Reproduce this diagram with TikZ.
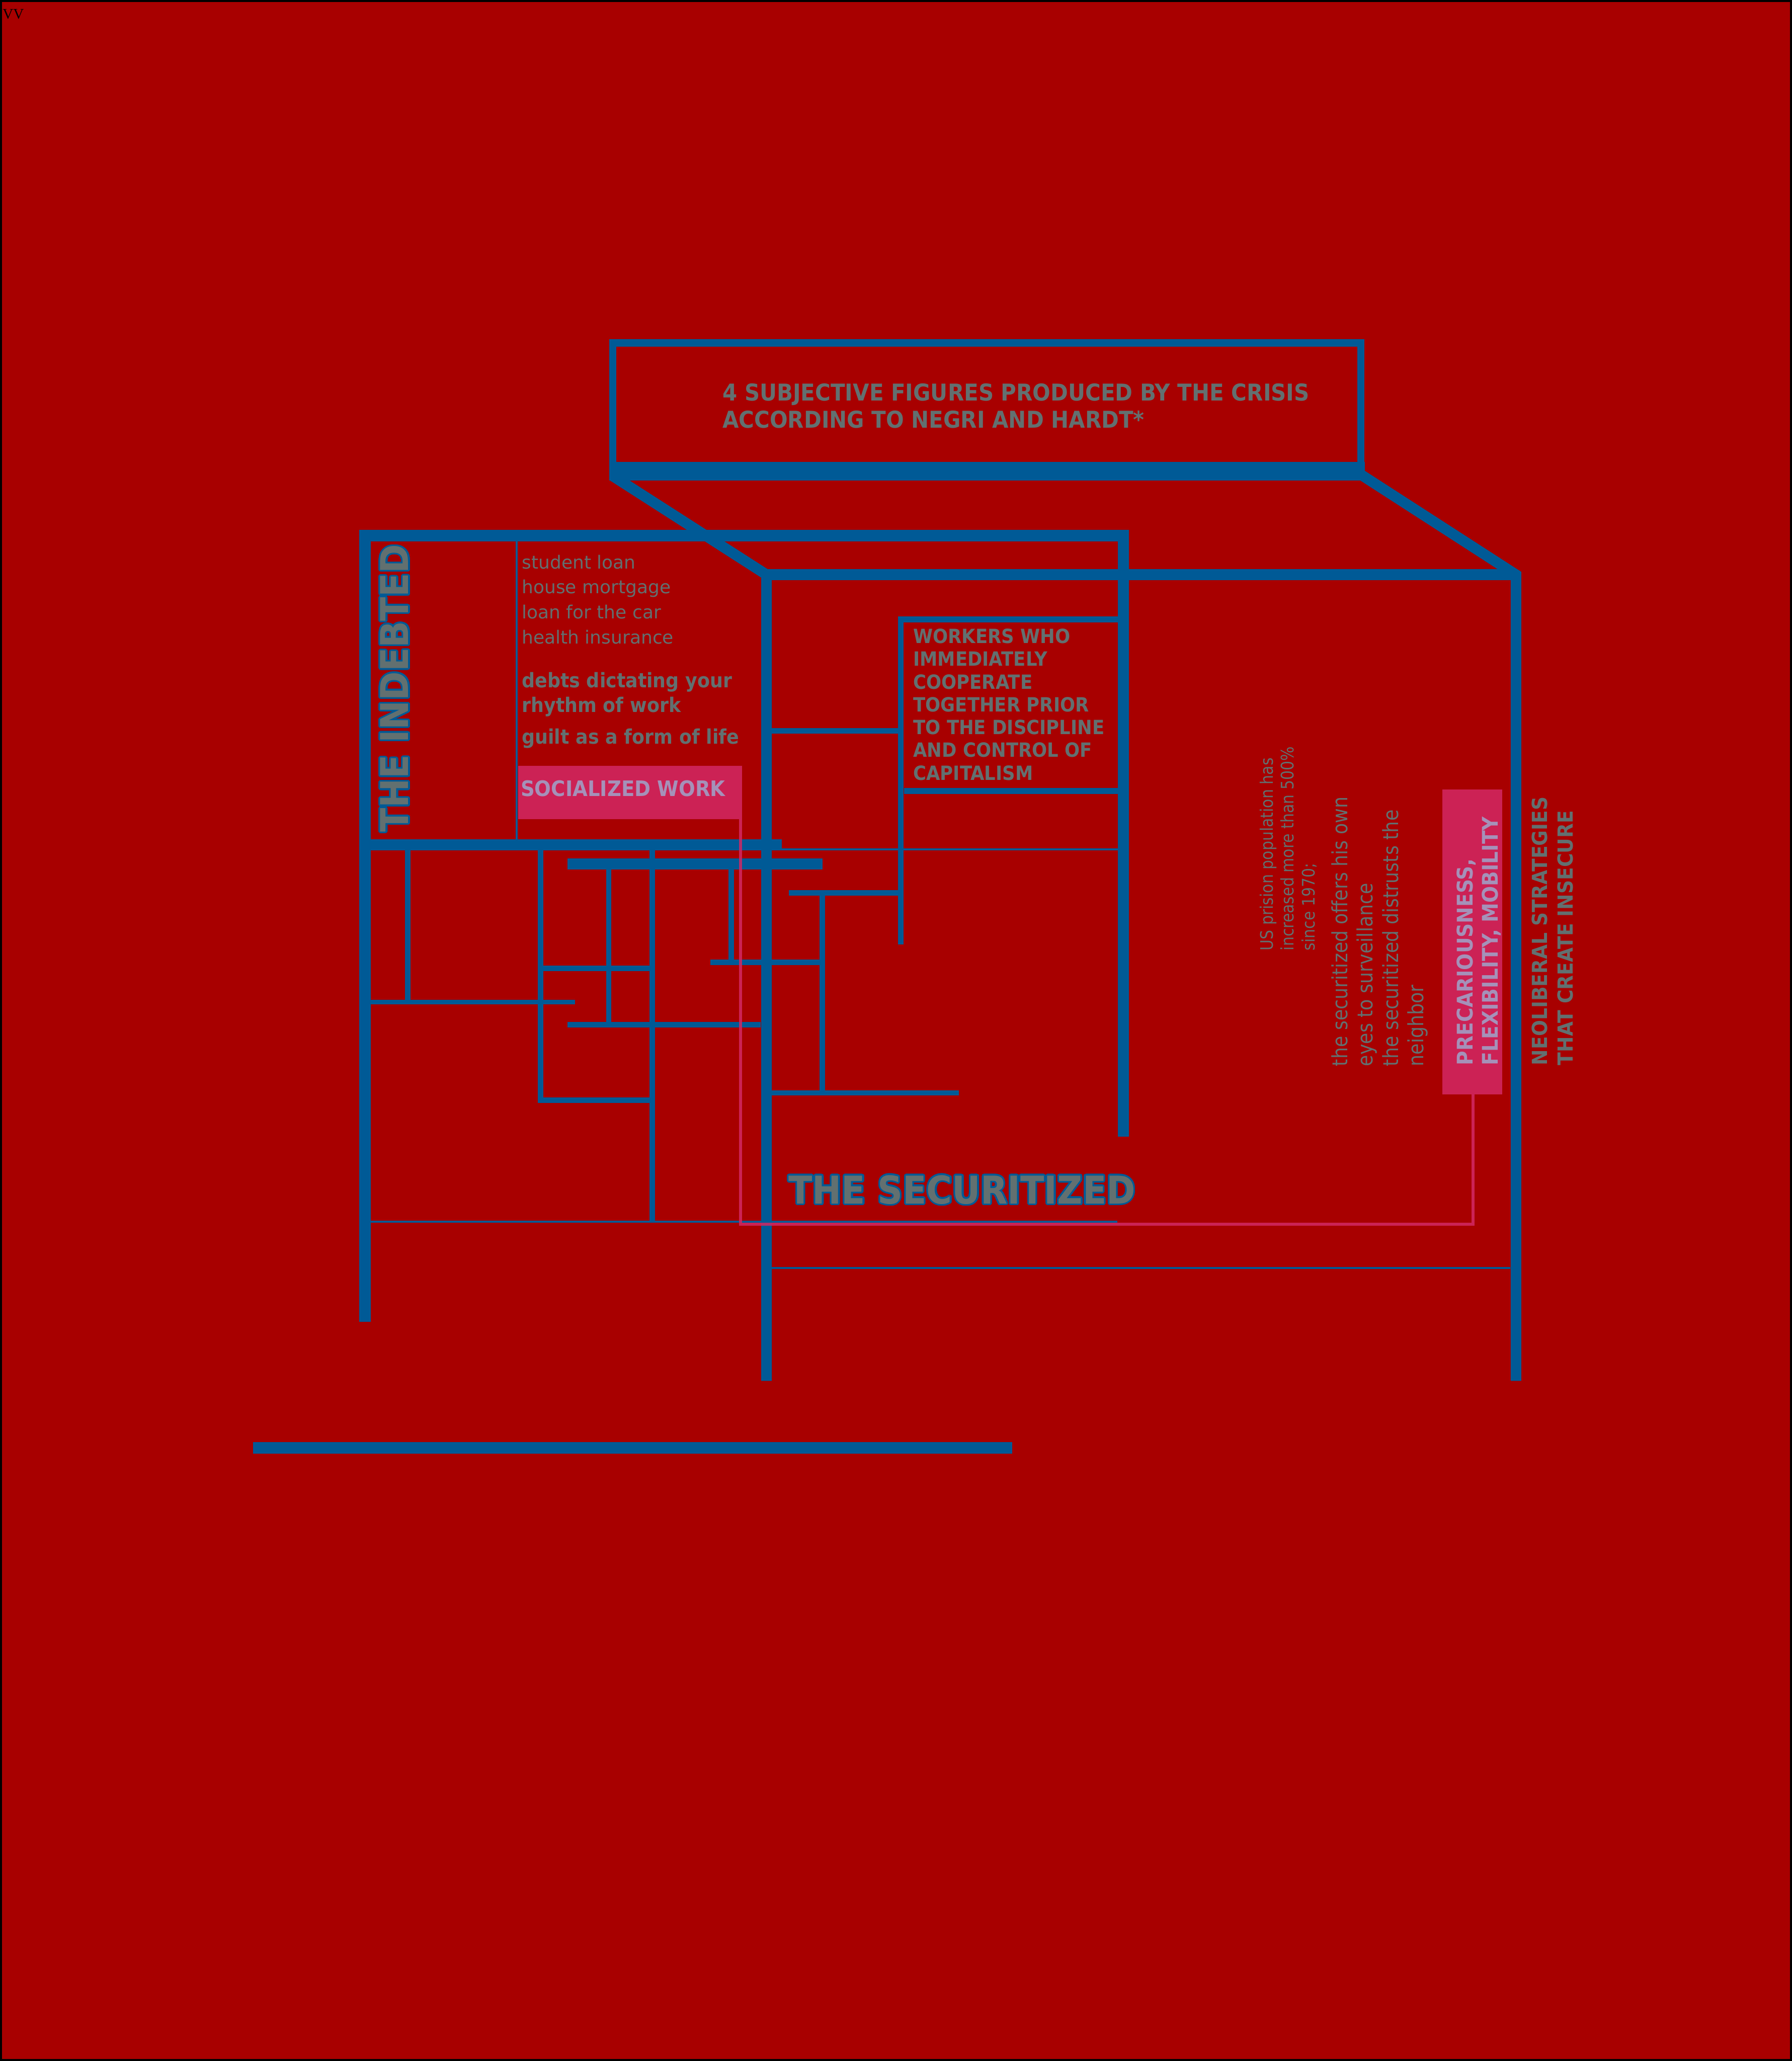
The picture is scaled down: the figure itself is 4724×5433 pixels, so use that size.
\documentclass[tikz,border=0pt]{standalone}
\usepackage{fontspec}
\usepackage{xcolor}
\setmainfont{DejaVu Sans}
\newfontfamily\rgcond{DejaVu Sans}[FakeStretch=0.87]
\newfontfamily\bfcond{DejaVu Sans}[FakeStretch=0.91]
\newfontfamily\vvfont{Liberation Serif}
\definecolor{bgred}{RGB}{168,0,0}
\definecolor{wallblue}{RGB}{0,90,150}
\definecolor{txtgray}{RGB}{98,112,112}
\definecolor{lilac}{RGB}{165,145,185}
\definecolor{pinkc}{RGB}{204,34,85}
\definecolor{pinkln}{RGB}{210,40,100}
\begin{document}
\begin{tikzpicture}[x=0.1mm,y=-0.1mm,line cap=butt,
wall/.style={wallblue,line width=3mm},beam/.style={wallblue,line width=1.4mm},hair/.style={wallblue,line width=0.5mm},
pinkline/.style={pinkln,line width=0.8mm,opacity=0.85},
txt/.style={inner sep=0,outer sep=0,anchor=base west,text=txtgray},rot/.style={txt,rotate=90},
titlef/.style={font=\bfcond\bfseries\fontsize{17.4pt}{20pt}\selectfont},
workf/.style={font=\bfcond\bfseries\fontsize{14.7pt}{17pt}\selectfont},
debtf/.style={font=\bfcond\bfseries\fontsize{15.1pt}{18pt}\selectfont},
listf/.style={font=\fontsize{13.6pt}{16pt}\selectfont},
bigf/.style={font=\bfcond\bfseries\fontsize{28.8pt}{32pt}\selectfont},
secf/.style={font=\rgcond\fontsize{15.8pt}{19pt}\selectfont},
usf/.style={font=\rgcond\fontsize{13pt}{16pt}\selectfont}]
\fill[bgred] (0,0) rectangle (4724,5433);
\useasboundingbox (0,0) rectangle (4724,5433);
\draw[black,line width=1mm] (0,0) rectangle (4724,5433);
\node[txt,text=black,font=\vvfont\fontsize{11pt}{13pt}\selectfont] (vv) at (7,50) {VV};
% roof
\draw[wallblue,line width=1.9mm] (1616,1242) -- (1616,904) -- (3588,904) -- (3588,1242);
\fill[wallblue] (1606,1218) rectangle (3598,1267);
\draw[wall,line width=2.8mm] (1616,1255) -- (2021,1515) -- (2021,3640);
\draw[wall,line width=2.8mm] (3588,1251) -- (3997,1515) -- (3997,3640);
\draw[wall] (2021,1515) -- (3997,1515);
\draw[hair] (2035,3343) -- (3982,3343);
% indebted
\draw[wall] (962,3485) -- (962,1412) -- (2962,1412) -- (2962,2996);
\draw[hair] (1362,1427) -- (1362,2213);
\draw[wall,line width=2.9mm] (947,2227) -- (2061,2227);
\draw[hair] (2061,2239) -- (2948,2239);
\draw[beam,line width=1.5mm] (2948,1633) -- (2375,1633) -- (2375,2490);
\draw[beam,line width=1.5mm] (2383,2085) -- (2948,2085);
\draw[beam,line width=1.5mm] (2035,1927) -- (2375,1927);
\draw[wall,line width=2.9mm] (1496,2277) -- (2169,2277);
\draw[beam] (1075,2241) -- (1075,2641);
\draw[beam,line width=1.2mm] (977,2641) -- (1516,2641);
\draw[beam] (1425,2241) -- (1425,2900) -- (1727,2900);
\draw[beam] (1432,2553) -- (1720,2553);
\draw[beam] (1720,2241) -- (1720,3220);
\draw[beam] (1605,2291) -- (1605,2701);
\draw[beam] (1496,2701) -- (2006,2701);
\draw[beam] (1928,2291) -- (1928,2537);
\draw[beam] (1873,2537) -- (2175,2537);
\draw[beam] (2168,2354) -- (2168,2881);
\draw[beam] (2080,2354) -- (2375,2354);
\draw[beam] (2034,2881) -- (2528,2881);
\draw[hair] (977,3220) -- (2946,3220);
\draw[wall] (667,3817) -- (2669,3817);
% pink
\fill[pinkc] (1366,2019) rectangle (1956,2159);
\fill[pinkc] (3803,2081) rectangle (3960,2885);
\draw[pinkline] (1952,2159) -- (1952,3227) -- (3884,3227) -- (3884,2885);
% texts
\foreach \t [count=\k from 0] in {4 SUBJECTIVE FIGURES PRODUCED BY THE CRISIS,ACCORDING TO NEGRI AND HARDT*}
   \node[txt,titlef] (title\k) at (1905,1056+72*\k) {\t};
\foreach \t [count=\k from 0] in {student loan,house mortgage,loan for the car,health insurance}
   \node[txt,listf] (loan\k) at (1376,1499+66*\k) {\t};
\node[txt,debtf] (debt0) at (1376,1813) {debts dictating your};
\node[txt,debtf] (debt1) at (1376,1878) {rhythm of work};
\node[txt,debtf] (guilt) at (1376,1961) {guilt as a form of life};
\node[txt,text=lilac,font=\bfcond\bfseries\fontsize{16pt}{19pt}\selectfont] (socwork) at (1373,2099) {SOCIALIZED WORK};
\foreach \t [count=\k from 0] in {WORKERS WHO,IMMEDIATELY,COOPERATE,TOGETHER PRIOR,TO THE DISCIPLINE,AND CONTROL OF,CAPITALISM}
   \node[txt,workf] (work\k) at (2408,1696+60*\k) {\t};
\foreach \a [count=\k] in {0,22.5,...,337.5} {
   \node[rot,bigf,text=wallblue] (indebtedo\k) at ([shift={(\a:4.5)}]1077,2193) {THE INDEBTED};
   \node[txt,bigf,text=wallblue] (securo\k) at ([shift={(\a:4.5)}]2079,3173) {THE SECURITIZED};
}
\node[rot,bigf] (indebted) at (1077,2193) {THE INDEBTED};
\node[txt,bigf] (secur) at (2079,3173) {THE SECURITIZED};
\foreach \t [count=\k from 0] in {US prision population has,increased more than 500\%,since 1970;}
   \node[rot,usf] (prison\k) at (3356+55*\k,2506) {\t};
\foreach \t [count=\k from 0] in {the securitized offers his own,eyes to surveillance,the securitized distrusts the,neighbor}
   \node[rot,secf] (surv\k) at (3553+66.7*\k,2811) {\t};
\foreach \t [count=\k from 0] in {{PRECARIOUSNESS,},{FLEXIBILITY, MOBILITY}}
   \node[rot,text=lilac,font=\bfcond\bfseries\fontsize{16.2pt}{19pt}\selectfont] (prec\k) at (3883+67*\k,2808) {\t};
\foreach \t [count=\k from 0] in {NEOLIBERAL STRATEGIES,THAT CREATE INSECURE}
   \node[rot,font=\bfcond\bfseries\fontsize{15.6pt}{19pt}\selectfont] (neolib\k) at (4080+67*\k,2808) {\t};
\end{tikzpicture}
\end{document}
